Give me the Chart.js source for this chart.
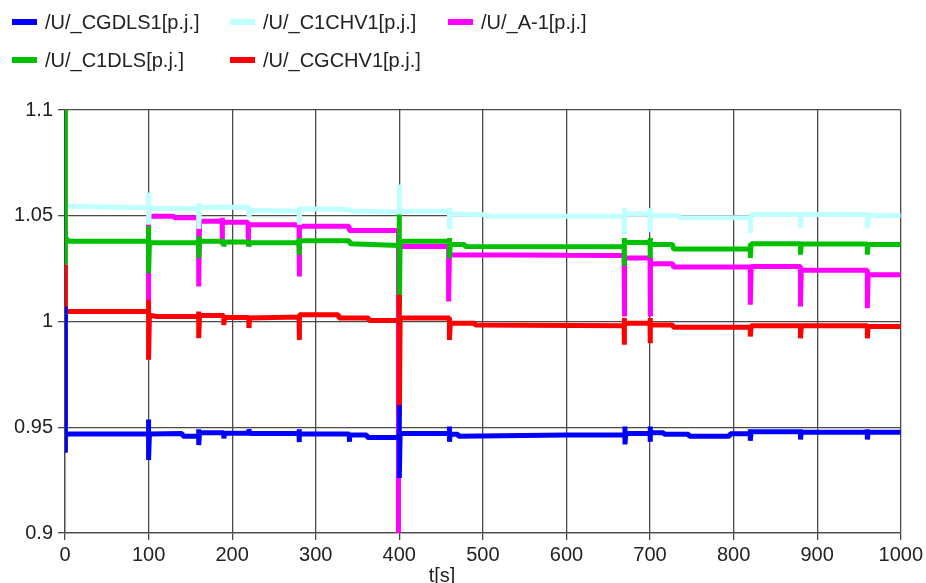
<!DOCTYPE html>
<html>
<head>
<meta charset="utf-8">
<script src="https://cdn.jsdelivr.net/npm/chart.js@4.4.1/dist/chart.umd.min.js"></script>
<style>
  body { margin: 0; background: #fff; }
  #wrap { position: relative; width: 926px; height: 583px; }
  #legend { position: absolute; left: 0; top: 0; font: 20px "Liberation Sans", Arial, sans-serif; color: #222; }
  .item { position: absolute; height: 24px; line-height: 24px; white-space: nowrap; }
  .item .sw { position: absolute; left: 0; top: 9px; width: 25px; height: 6px; }
  .item .tx { position: absolute; left: 33px; top: 0; }
</style>
</head>
<body>
<div id="wrap">
  <canvas id="myChart" width="926" height="583"></canvas>
  <div id="legend"></div>
</div>
<script>
// axis ticks
const xTicks = [0, 100, 200, 300, 400, 500, 600, 700, 800, 900, 1000];
const yTicks = [0.9, 0.95, 1, 1.05, 1.1];
const yTickLabels = ["0.9", "0.95", "1", "1.05", "1.1"];

// series names, in legend order
const names = ["/U/_CGDLS1[p.j.]", "/U/_C1CHV1[p.j.]", "/U/_A-1[p.j.]", "/U/_C1DLS[p.j.]", "/U/_CGCHV1[p.j.]"];

// [t, U] points
const uCGDLS1 = [[0,1.007],[0,0.938],[1,0.9465],[5,0.9468],[100,0.9468],[100,0.9537],[100,0.9345],[101,0.9468],
  [140,0.9471],[141,0.9458],[160,0.9458],[160,0.949],[160,0.9416],[161,0.9474],[190,0.9474],[190,0.9447],[191,0.9472],
  [220,0.9472],[220,0.949],[221,0.9471],[280,0.9471],[280,0.9491],[280,0.943],[281,0.9468],[340,0.9468],[340,0.9431],
  [341,0.9463],[361,0.9463],[362,0.9452],[400,0.9452],[400,0.9605],[400,0.926],[401,0.947],[460,0.947],[460,0.9503],
  [460,0.9431],[461,0.9467],[470,0.9467],[471,0.9458],[600,0.9463],[670,0.9463],[670,0.9503],[670,0.9419],[671,0.947],
  [700,0.947],[700,0.9503],[700,0.9431],[701,0.9474],[716,0.9474],[717,0.9467],[746,0.9467],[747,0.9458],[795,0.9458],
  [796,0.9469],[820,0.9469],[820,0.949],[820,0.9436],[821,0.9479],[880,0.9479],[880,0.949],[880,0.9442],[881,0.9476],
  [960,0.9476],[960,0.949],[960,0.9442],[961,0.9476],[1000,0.9476]];

const uC1CHV1 = [[0,1.0562],[2,1.0545],[100,1.0538],[100,1.061],[100,1.0458],[101,1.0535],[160,1.0534],[160,1.056],
  [160,1.0438],[161,1.054],[220,1.054],[220,1.049],[221,1.0526],[280,1.0521],[280,1.0458],[281,1.0533],[340,1.053],
  [341,1.0522],[400,1.0517],[400,1.0648],[400,1.049],[401,1.0521],[460,1.0521],[460,1.0537],[460,1.0435],[461,1.051],
  [503,1.0505],[504,1.0498],[669,1.0498],[669,1.0537],[669,1.0411],[670,1.051],[700,1.051],[700,1.0537],[700,1.0422],
  [701,1.0501],[734,1.0501],[735,1.049],[820,1.049],[820,1.0419],[821,1.0506],[880,1.0506],[880,1.0443],[881,1.0506],
  [960,1.0506],[960,1.0443],[961,1.0501],[1000,1.0501]];

const uA1 = [[100,1.0102],[100,1.0498],[130,1.0498],[131,1.049],[160,1.049],[160,1.0166],[161,1.0474],[188,1.0474],
  [188,1.049],[188,1.0363],[189,1.0469],[219,1.0469],[219,1.0355],[220,1.0458],[280,1.0458],[280,1.0213],[281,1.045],
  [340,1.045],[340,1.043],[399,1.043],[399,0.9],[399,1.0355],[402,1.0355],[459,1.0355],[459,1.0095],[460,1.0316],
  [600,1.0313],[669,1.0312],[669,1.0024],[670,1.03],[700,1.03],[700,1.0024],[701,1.0273],[727,1.0273],[728,1.0258],
  [820,1.0258],[820,1.0079],[821,1.026],[880,1.026],[880,1.0071],[881,1.0242],[960,1.0242],[960,1.0063],[961,1.0221],
  [1000,1.0221]];

const uC1DLS = [[0,1.1],[0,1.027],[1,1.0379],[2,1.0395],[3,1.0379],[100,1.0379],[100,1.045],[100,1.0229],[101,1.0372],
  [160,1.0372],[160,1.0403],[160,1.03],[161,1.0379],[190,1.0379],[190,1.0355],[191,1.0376],[220,1.0376],[220,1.0355],
  [221,1.0372],[280,1.0374],[280,1.0395],[280,1.0316],[281,1.0382],[340,1.0382],[341,1.0368],[400,1.0359],[400,1.0506],
  [400,1.0056],[401,1.0379],[460,1.0379],[460,1.0395],[460,1.03],[461,1.0364],[478,1.0364],[479,1.0355],[669,1.0353],
  [669,1.0395],[669,1.0264],[670,1.0374],[700,1.0374],[700,1.0395],[700,1.03],[701,1.0364],[727,1.0364],[728,1.0343],
  [820,1.0343],[820,1.0368],[820,1.03],[821,1.0368],[880,1.0368],[880,1.0316],[881,1.0367],[960,1.0367],[960,1.0316],
  [961,1.0364],[1000,1.0364]];

const uCGCHV1 = [[0,1.027],[0,1.0],[1,1.0047],[100,1.0047],[100,1.0103],[100,0.9819],[101,1.003],[110,1.0024],
  [160,1.0024],[160,1.0047],[160,0.9921],[161,1.0028],[190,1.0028],[190,0.9984],[191,1.0019],[220,1.0019],[220,0.9969],
  [221,1.0016],[280,1.0021],[280,0.9913],[281,1.0032],[327,1.0032],[328,1.0016],[363,1.0016],[364,1.0005],[400,1.0005],
  [400,1.0127],[400,0.955],[401,1.0016],[460,1.0016],[460,0.9913],[461,0.9992],[490,0.9992],[491,0.9984],[669,0.998],
  [669,1.0016],[669,0.989],[670,0.9992],[700,0.9992],[700,1.0016],[700,0.9897],[701,0.9984],[727,0.9984],[728,0.9973],
  [820,0.9973],[820,0.9929],[821,0.998],[880,0.998],[880,0.9921],[881,0.998],[960,0.998],[960,0.9921],[961,0.9976],
  [1000,0.9976]];

const series = [uCGDLS1, uC1CHV1, uA1, uC1DLS, uCGCHV1];
const colors = ["#0000ff", "#c0ffff", "#ff00ff", "#00c000", "#ff0000"];
// drawing order: blue on top, then green, red, cyan, magenta underneath
const drawOrder = [0, 3, 4, 2, 1];

const gridColor = "#4a4a4a";
Chart.defaults.font.family = '"Liberation Sans", Arial, sans-serif';
Chart.defaults.font.size = 20;
Chart.defaults.color = "#222";

const datasets = series.map((pts, i) => ({
  label: names[i],
  data: pts.map(p => ({ x: p[0], y: p[1] })),
  borderColor: colors[i],
  backgroundColor: colors[i],
  borderWidth: 5,
  borderJoinStyle: "bevel",
  pointRadius: 0,
  tension: 0,
  clip: 0,
  order: drawOrder[i],
}));

// "t[s]" sits left of centre under the axis
const axisTitle = {
  id: "axisTitle",
  afterDraw(chart) {
    const ctx = chart.ctx;
    ctx.save();
    ctx.font = '20px "Liberation Sans", Arial, sans-serif';
    ctx.fillStyle = "#222";
    ctx.textAlign = "center";
    ctx.textBaseline = "middle";
    ctx.fillText("t[s]", 442, 576);
    ctx.restore();
  },
};

const myChart = new Chart(document.getElementById("myChart"), {
  type: "line",
  data: { datasets },
  plugins: [axisTitle],
  options: {
    responsive: false,
    animation: false,
    layout: { padding: { top: 110, right: 23, left: 0, bottom: 0 } },
    plugins: { legend: { display: false }, tooltip: { enabled: false } },
    scales: {
      x: {
        type: "linear",
        min: 0,
        max: 1000,
        afterFit: s => { s.height = 50; },
        afterBuildTicks: s => { s.ticks = xTicks.map(v => ({ value: v })); },
        ticks: { padding: 3, maxRotation: 0, callback: v => String(v) },
        grid: { color: gridColor, lineWidth: 1.3, tickLength: 7 },
        border: { color: gridColor, width: 1.3 },
      },
      y: {
        min: 0.9,
        max: 1.1,
        afterFit: s => { s.width = 65; },
        afterBuildTicks: s => { s.ticks = yTicks.map(v => ({ value: v })); },
        ticks: { padding: 5, callback: (v, i) => yTickLabels[i] },
        grid: { color: gridColor, lineWidth: 1.3, tickLength: 7 },
        border: { color: gridColor, width: 1.3 },
      },
    },
  },
});

// legend: two rows, fixed columns
const legendCols = [12, 230, 448];
const legendRows = [22, 60];
const legend = document.getElementById("legend");
names.forEach((name, i) => {
  const item = document.createElement("div");
  item.className = "item";
  item.style.left = legendCols[i % 3] + "px";
  item.style.top = (legendRows[Math.floor(i / 3)] - 12) + "px";
  item.innerHTML = '<span class="sw" style="background:' + colors[i] + '"></span><span class="tx"></span>';
  item.querySelector(".tx").textContent = name;
  legend.appendChild(item);
});
</script>
</body>
</html>
